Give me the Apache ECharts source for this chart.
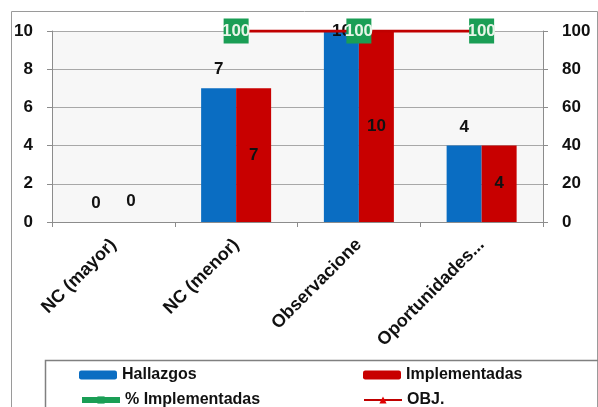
<!DOCTYPE html>
<html>
<head>
<meta charset="utf-8">
<script src="https://cdn.jsdelivr.net/npm/echarts@6/dist/echarts.min.js"></script>
<style>
  html, body { margin: 0; padding: 0; background: #fff; }
  #chart { width: 598px; height: 407px; }
</style>
</head>
<body>
<div id="chart"></div>
<script>
var categories = ['NC (mayor)', 'NC (menor)', 'Observacione', 'Oportunidades...'];
var hallazgos = [0, 7, 10, 4];
var implementadas = [0, 7, 10, 4];
var pctImplementadas = [null, 100, 100, 100];
var objetivo = [null, 100, 100, 100];

var font = 'Liberation Sans';
var yMax = 10;
var chart = echarts.init(document.getElementById('chart'));

// etiqueta de la barra azul: si toca el tope se mete dentro, como en Excel
var hallData = hallazgos.map(function (v) {
    return v >= yMax ? { value: v, label: { position: 'insideTop', distance: -8 } } : v;
});
// la etiqueta de una barra en cero va encima
var implData = implementadas.map(function (v) {
    return v === 0 ? { value: v, label: { position: 'top', distance: 12 } } : v;
});

var legendText = { fontFamily: font, fontWeight: 'bold', fontSize: 16, color: '#111' };
function legendAt(left, top, name, extra) {
    var item = { name: name };
    if (extra) { for (var k in extra) item[k] = extra[k]; }
    return { left: left, top: top, itemWidth: 38, itemHeight: 9, textStyle: legendText,
             data: [item] };
}

var option = {
    backgroundColor: '#fff',
    animation: false,
    textStyle: { fontFamily: font },
    graphic: [
        { type: 'rect', left: 9, top: 9, shape: { width: 586, height: 420 },
          style: { fill: 'none', stroke: '#9a9a9a', lineWidth: 1 }, silent: true },
        { type: 'rect', left: 43, top: 358, shape: { width: 580, height: 60 },
          style: { fill: 'none', stroke: '#808080', lineWidth: 1.5 }, silent: true }
    ],
    grid: { left: 52, right: 55, top: 31, bottom: 185, show: true,
            backgroundColor: '#f7f7f7', borderWidth: 0 },
    legend: [
        legendAt(74, 362, 'Hallazgos'),
        legendAt(358, 362, 'Implementadas'),
        legendAt(74, 387, '% Implementadas',
                 { lineStyle: { color: '#1a9e55', width: 6, opacity: 1 },
                   itemStyle: { color: '#1a9e55' } }),
        legendAt(358, 387, 'OBJ.')
    ],
    xAxis: {
        type: 'category',
        data: categories,
        axisLine: { lineStyle: { color: '#8c8c8c' } },
        axisTick: { show: true, length: 5, lineStyle: { color: '#8c8c8c' } },
        axisLabel: { rotate: 45, interval: 0, margin: 20, fontFamily: font,
                     fontWeight: 'bold', fontSize: 18, color: '#111' }
    },
    yAxis: [
        { type: 'value', min: 0, max: yMax, interval: 2,
          axisLine: { show: true, lineStyle: { color: '#8c8c8c' } },
          axisTick: { show: true, length: 5, lineStyle: { color: '#8c8c8c' } },
          splitLine: { lineStyle: { color: '#a8a8a8' } },
          axisLabel: { margin: 19, fontFamily: font, fontWeight: 'bold', fontSize: 17, color: '#111' } },
        { type: 'value', min: 0, max: 100, interval: 20,
          axisLine: { show: true, lineStyle: { color: '#8c8c8c' } },
          axisTick: { show: true, length: 5, lineStyle: { color: '#8c8c8c' } },
          splitLine: { show: false },
          axisLabel: { margin: 19, fontFamily: font, fontWeight: 'bold', fontSize: 17, color: '#111' } }
    ],
    series: [
        { name: 'Hallazgos', type: 'bar', data: hallData, barWidth: 35, barGap: '0%',
          itemStyle: { color: '#0a6dc2' },
          label: { show: true, position: 'top', distance: 10, fontFamily: font,
                   fontWeight: 'bold', fontSize: 17, color: '#111' } },
        { name: 'Implementadas', type: 'bar', data: implData, barWidth: 35,
          itemStyle: { color: '#c80000' },
          label: { show: true, position: 'inside', fontFamily: font,
                   fontWeight: 'bold', fontSize: 17, color: '#111' } },
        { name: 'OBJ.', type: 'line', yAxisIndex: 1, data: objetivo,
          lineStyle: { color: '#c00000', width: 3 },
          itemStyle: { color: '#e00000' },
          symbol: 'triangle', symbolSize: 9, z: 4 },
        { name: '% Implementadas', type: 'line', yAxisIndex: 1, data: pctImplementadas,
          lineStyle: { color: '#1a9e55', width: 0, opacity: 0 },
          itemStyle: { color: '#1a9e55' },
          symbol: 'rect', symbolSize: [25, 25], z: 6,
          label: { show: true, position: 'inside', fontFamily: font, fontWeight: 'bold',
                   fontSize: 17, color: '#e8f5e8' } }
    ]
};
chart.setOption(option);
</script>
</body>
</html>
